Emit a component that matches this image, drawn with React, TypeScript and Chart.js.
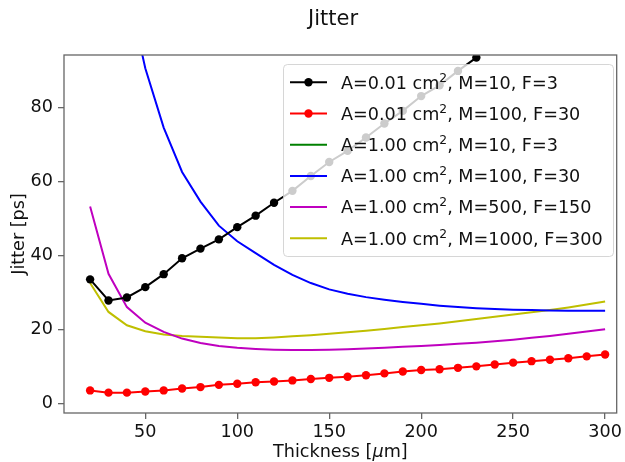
import React, { useEffect, useRef } from "react";
import { Chart, registerables } from "chart.js";

Chart.register(...registerables);

const thickness = [20, 30, 40, 50, 60, 70, 80, 90, 100, 110, 120, 130, 140, 150, 160, 170, 180, 190, 200, 210, 220, 230, 240, 250, 260, 270, 280, 290, 300];
const jitterA001M10 = [33.5, 27.8, 28.6, 31.4, 34.9, 39.2, 41.8, 44.3, 47.6, 50.7, 54.2, 57.4, 61.4, 65.2, 68.2, 71.8, 75.6, 79.0, 83.0, 85.9, 89.8, 93.4];
const jitterA001M100 = [3.5, 2.9, 2.9, 3.2, 3.5, 4.0, 4.4, 5.0, 5.3, 5.7, 5.9, 6.2, 6.6, 6.9, 7.2, 7.6, 8.1, 8.6, 9.0, 9.2, 9.6, 10.0, 10.5, 11.0, 11.4, 11.8, 12.2, 12.7, 13.2];
const jitterA1M10: (number | null)[] = [];
const jitterA1M100 = [null, null, 113, 90.5, 74.5, 62.5, 54.5, 48, 43.8, 40.6, 37.4, 34.7, 32.5, 30.8, 29.6, 28.7, 28.0, 27.4, 26.9, 26.4, 26.0, 25.7, 25.5, 25.3, 25.2, 25.1, 25.05, 25.0, 25.0];
const jitterA1M500 = [53.2, 35, 26, 21.8, 19.3, 17.5, 16.3, 15.5, 15.0, 14.7, 14.5, 14.4, 14.4, 14.5, 14.6, 14.8, 15.0, 15.3, 15.5, 15.8, 16.1, 16.4, 16.8, 17.2, 17.7, 18.2, 18.8, 19.4, 20.0];
const jitterA1M1000 = [32.5, 24.7, 21.1, 19.5, 18.6, 18.2, 18.0, 17.8, 17.6, 17.6, 17.8, 18.1, 18.4, 18.8, 19.2, 19.6, 20.1, 20.6, 21.1, 21.6, 22.2, 22.8, 23.4, 24.0, 24.6, 25.2, 25.9, 26.7, 27.5];

const areaLabels = ["0.01", "0.01", "1.00", "1.00", "1.00", "1.00"];
const mLabels = ["10", "100", "10", "100", "500", "1000"];
const fLabels = ["3", "30", "3", "30", "150", "300"];
const seriesColors = ["#000000", "#ff0000", "#008000", "#0000ff", "#bf00bf", "#bfbf00"];
const seriesMarkers = [true, true, false, false, false, false];
const seriesValues = [jitterA001M10, jitterA001M100, jitterA1M10, jitterA1M100, jitterA1M500, jitterA1M1000];

const xTicks = [50, 100, 150, 200, 250, 300];
const yTicks = [0, 20, 40, 60, 80];

const FONT = "'DejaVu Sans', sans-serif";

const customPlugin = {
  id: "mplCustom",
  afterDatasetsDraw(chart: any) {
    const ctx = chart.ctx;
    const a = chart.chartArea;
    ctx.save();
    // spines
    ctx.strokeStyle = "#666";
    ctx.lineWidth = 1.3;
    ctx.strokeRect(a.left, a.top, a.right - a.left, a.bottom - a.top);

    // legend
    const lx = 283.5, ly = 64.5, lw = 330, lh = 192, r = 4;
    ctx.beginPath();
    ctx.moveTo(lx + r, ly);
    ctx.lineTo(lx + lw - r, ly);
    ctx.quadraticCurveTo(lx + lw, ly, lx + lw, ly + r);
    ctx.lineTo(lx + lw, ly + lh - r);
    ctx.quadraticCurveTo(lx + lw, ly + lh, lx + lw - r, ly + lh);
    ctx.lineTo(lx + r, ly + lh);
    ctx.quadraticCurveTo(lx, ly + lh, lx, ly + lh - r);
    ctx.lineTo(lx, ly + r);
    ctx.quadraticCurveTo(lx, ly, lx + r, ly);
    ctx.closePath();
    ctx.fillStyle = "rgba(255,255,255,0.8)";
    ctx.fill();
    ctx.strokeStyle = "rgba(204,204,204,0.8)";
    ctx.lineWidth = 1;
    ctx.stroke();

    const fs = 17.6;
    for (let i = 0; i < areaLabels.length; i++) {
      const cy = 82.3 + i * 31.2;
      ctx.strokeStyle = seriesColors[i];
      ctx.lineWidth = 2;
      ctx.beginPath();
      ctx.moveTo(290, cy);
      ctx.lineTo(327, cy);
      ctx.stroke();
      if (seriesMarkers[i]) {
        ctx.fillStyle = seriesColors[i];
        ctx.beginPath();
        ctx.arc(308.5, cy, 4.2, 0, Math.PI * 2);
        ctx.fill();
      }
      ctx.fillStyle = "#111";
      ctx.textBaseline = "alphabetic";
      ctx.textAlign = "left";
      const base = cy + 6.3;
      let x = 341;
      ctx.font = `${fs}px ${FONT}`;
      const p1 = `A=${areaLabels[i]} cm`;
      ctx.fillText(p1, x, base);
      x += ctx.measureText(p1).width;
      ctx.font = `${fs * 0.7}px ${FONT}`;
      ctx.fillText("2", x, base - 7);
      x += ctx.measureText("2").width;
      ctx.font = `${fs}px ${FONT}`;
      ctx.fillText(`, M=${mLabels[i]}, F=${fLabels[i]}`, x, base);
    }
    ctx.restore();
  },
  afterDraw(chart: any) {
    const ctx = chart.ctx;
    const a = chart.chartArea;
    ctx.save();
    ctx.fillStyle = "#111";
    // title
    ctx.font = `21px ${FONT}`;
    ctx.textAlign = "center";
    ctx.textBaseline = "alphabetic";
    ctx.fillText("Jitter", 333, 25);
    // x title with italic mu
    const fs = 17.6;
    const parts = [
      { t: "Thickness [", f: `${fs}px ${FONT}` },
      { t: "\u03bc", f: `italic ${fs}px ${FONT}` },
      { t: "m]", f: `${fs}px ${FONT}` },
    ];
    let total = 0;
    for (const p of parts) {
      ctx.font = p.f;
      total += ctx.measureText(p.t).width;
    }
    let x = (a.left + a.right) / 2 - total / 2;
    ctx.textAlign = "left";
    for (const p of parts) {
      ctx.font = p.f;
      ctx.fillText(p.t, x, 457);
      x += ctx.measureText(p.t).width;
    }
    // y title
    ctx.translate(24, (a.top + a.bottom) / 2);
    ctx.rotate(-Math.PI / 2);
    ctx.font = `${fs}px ${FONT}`;
    ctx.textAlign = "center";
    ctx.fillText("Jitter [ps]", 0, 0);
    ctx.restore();
  },
};

export default function App() {
  const ref = useRef<HTMLCanvasElement | null>(null);
  useEffect(() => {
    if (!ref.current) return;
    const datasets = seriesValues.map((vals, i) => ({
      label: `A=${areaLabels[i]} cm2, M=${mLabels[i]}, F=${fLabels[i]}`,
      data: vals.map((v, j) => ({ x: thickness[j], y: v })),
      borderColor: seriesColors[i],
      backgroundColor: seriesColors[i],
      borderWidth: 2,
      pointRadius: seriesMarkers[i] ? 4.2 : 0,
      pointHoverRadius: 0,
      pointBorderWidth: 0,
      tension: 0,
      spanGaps: false,
    }));
    const chart = new Chart(ref.current, {
      type: "line",
      data: { datasets },
      plugins: [customPlugin],
      options: {
        animation: false,
        responsive: false,
        devicePixelRatio: 1,
        events: [],
        layout: { padding: { left: 0, right: 5, top: 55, bottom: 0 } },
        plugins: { legend: { display: false }, title: { display: false }, tooltip: { enabled: false } },
        scales: {
          x: {
            type: "linear",
            min: 5.8,
            max: 306.3,
            afterBuildTicks: (s: any) => {
              s.ticks = xTicks.map((v) => ({ value: v }));
            },
            afterFit: (s: any) => {
              s.height = 49;
            },
            grid: { display: true, drawOnChartArea: false, drawTicks: true, tickLength: 6, color: "#666", lineWidth: 1.3 },
            border: { display: false },
            ticks: { color: "#111", font: { family: FONT, size: 17.6 }, padding: 3, maxRotation: 0, autoSkip: false },
          },
          y: {
            type: "linear",
            min: -2.6,
            max: 94.1,
            afterBuildTicks: (s: any) => {
              s.ticks = yTicks.map((v) => ({ value: v }));
            },
            afterFit: (s: any) => {
              s.width = 64;
            },
            grid: { display: true, drawOnChartArea: false, drawTicks: true, tickLength: 6, color: "#666", lineWidth: 1.3 },
            border: { display: false },
            ticks: { color: "#111", font: { family: FONT, size: 17.6 }, padding: 5, autoSkip: false },
          },
        },
      },
    });
    return () => chart.destroy();
  }, []);
  return (
    <div style={{ position: "fixed", left: 0, top: 0, width: 625, height: 462, background: "#fff" }}>
      <canvas ref={ref} width={625} height={462} style={{ display: "block", width: 625, height: 462 }} />
    </div>
  );
}
